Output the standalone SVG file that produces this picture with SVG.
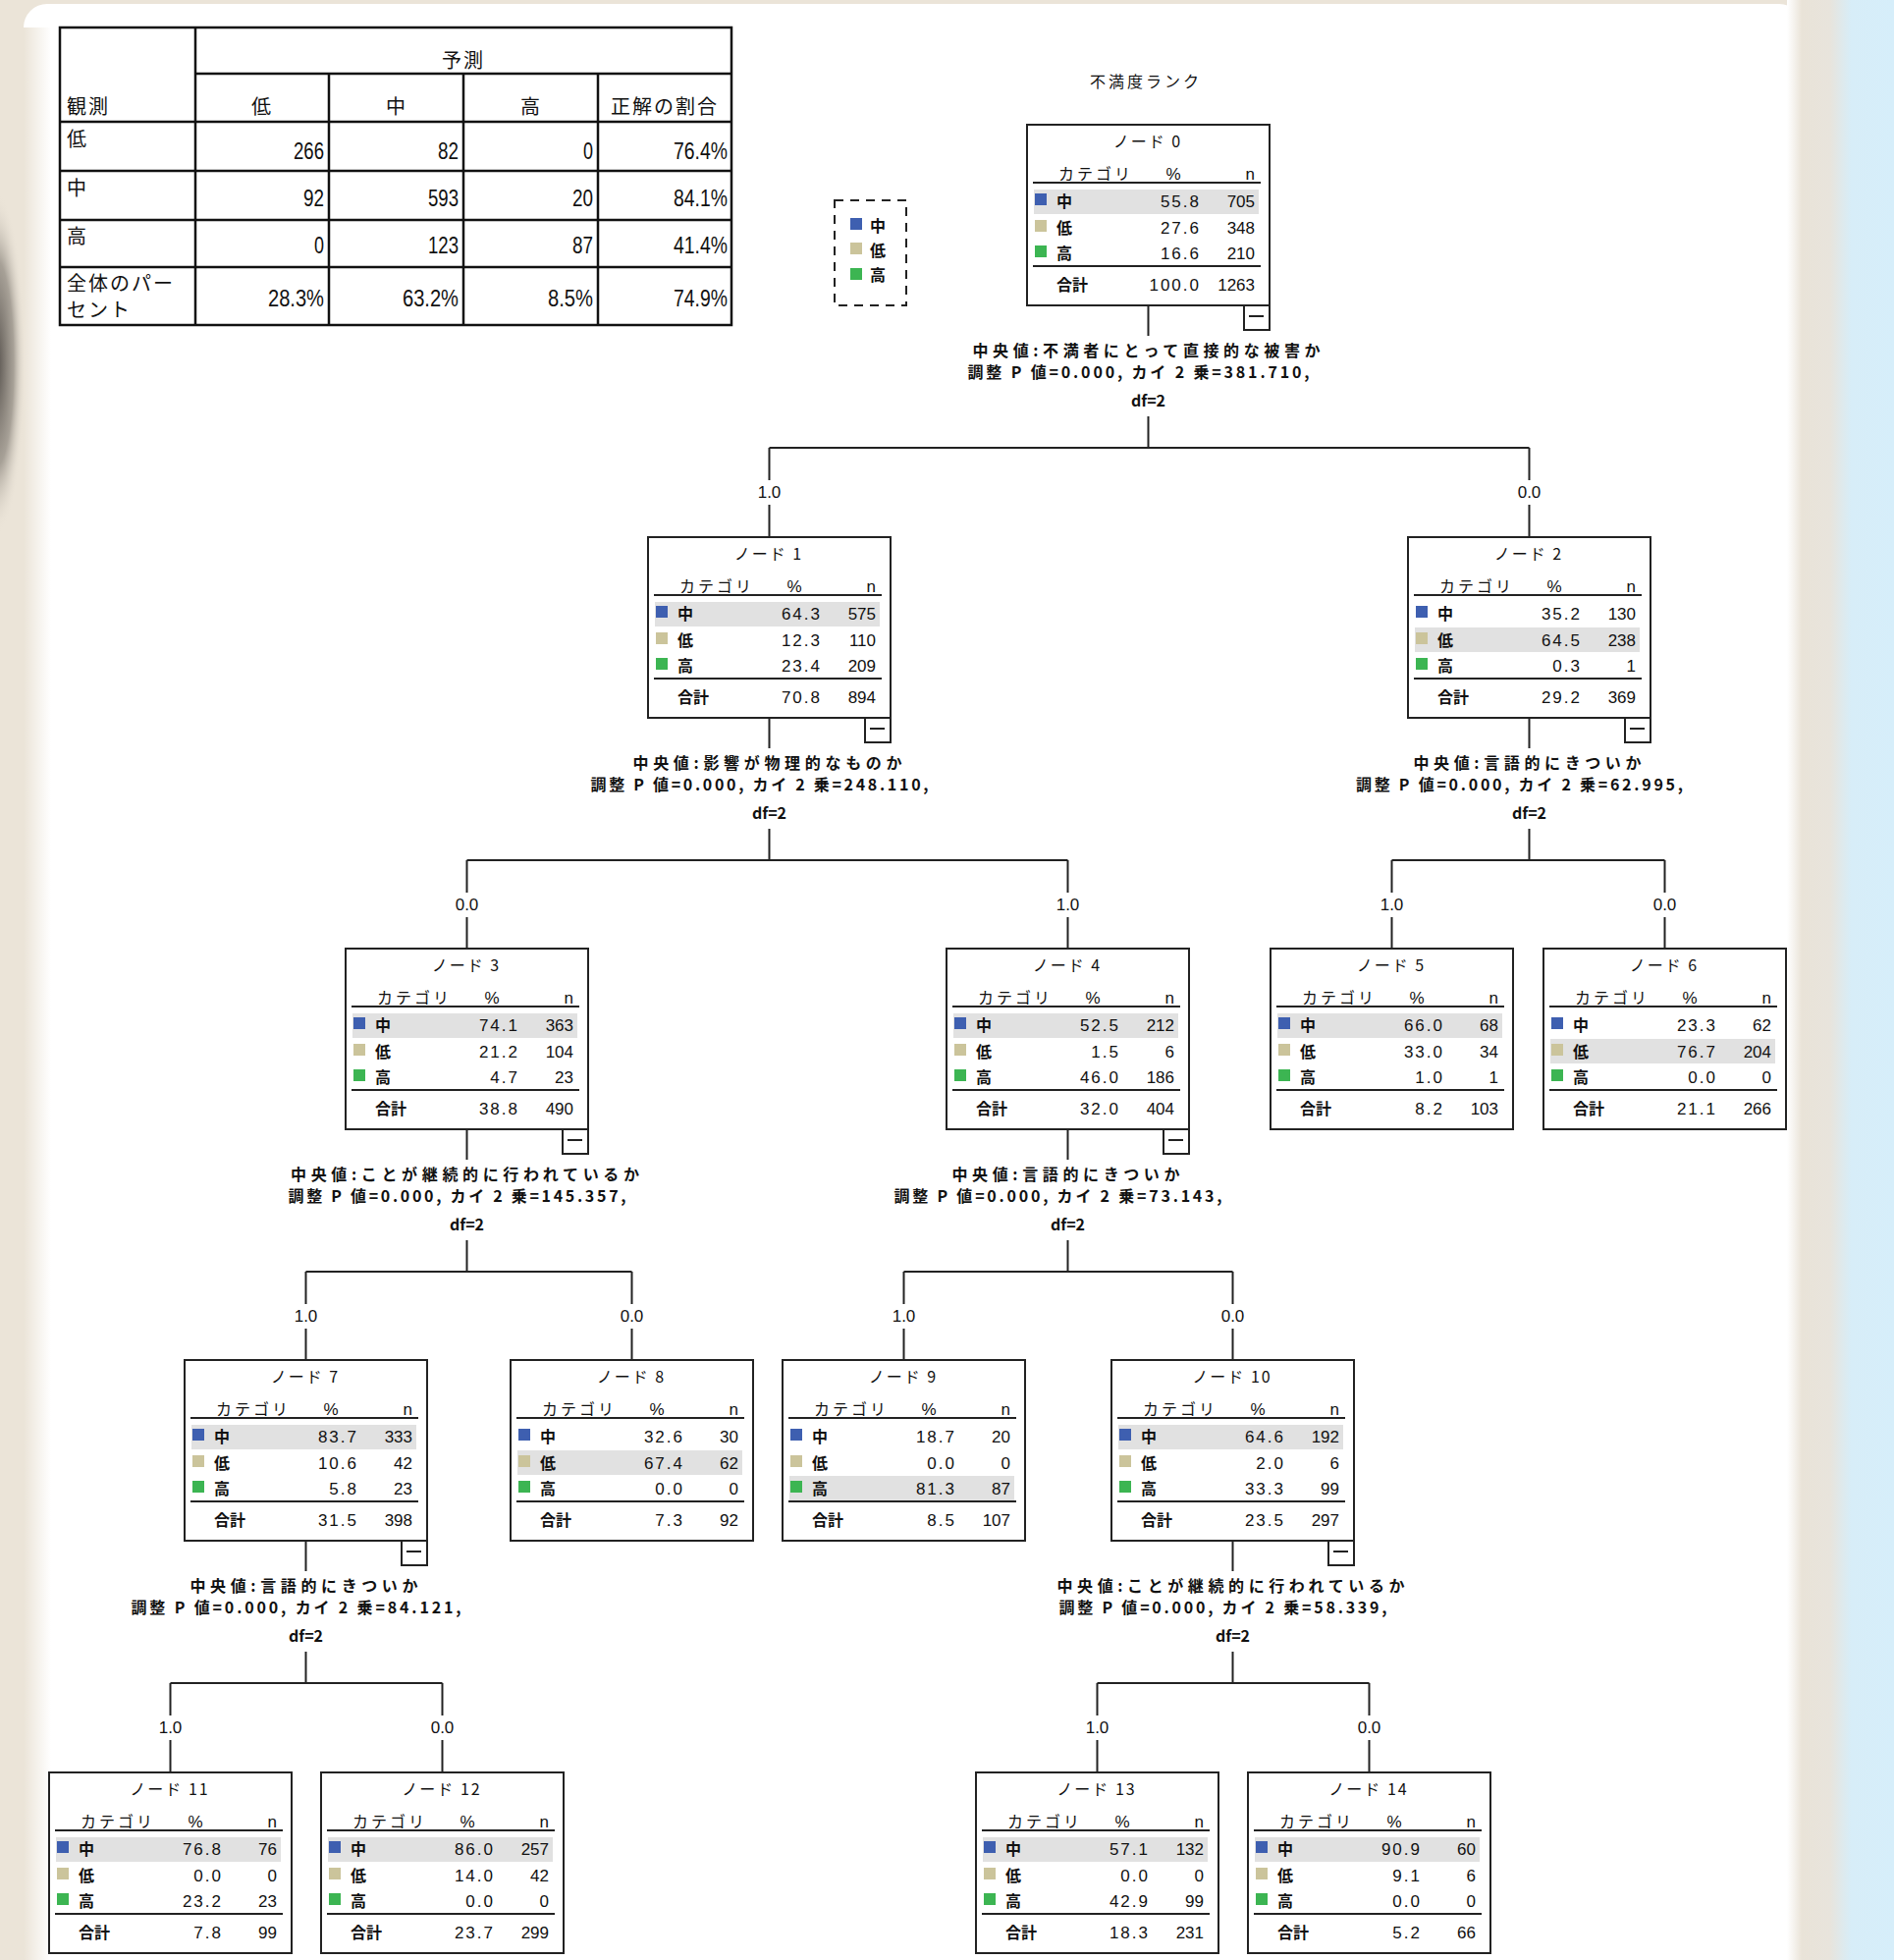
<svg xmlns="http://www.w3.org/2000/svg" width="1929" height="1996" viewBox="0 0 1929 1996">
<defs>
<linearGradient id="gR" x1="0" x2="1" y1="0" y2="0">
<stop offset="0" stop-color="#ffffff"/><stop offset="0.14" stop-color="#e9e3d8"/><stop offset="0.4" stop-color="#e8e4dc"/><stop offset="0.6" stop-color="#d7edf8"/><stop offset="1" stop-color="#d6eefa"/>
</linearGradient>
<linearGradient id="gL" x1="0" x2="1" y1="0" y2="0">
<stop offset="0" stop-color="#ebe4d8"/><stop offset="1" stop-color="#ffffff"/>
</linearGradient>
<radialGradient id="gD" cx="0.5" cy="0.5" r="0.5">
<stop offset="0" stop-color="#4a4541" stop-opacity="0.95"/><stop offset="0.6" stop-color="#7a746c" stop-opacity="0.6"/><stop offset="1" stop-color="#ebe4d8" stop-opacity="0"/>
</radialGradient>
<style>
.box{fill:#fff;stroke:#222;stroke-width:2}
.rule{stroke:#222;stroke-width:2}
.hl{fill:#e1e1e1}
.b{fill:#3e5fb0}.y{fill:#cbc49b}.g{fill:#3cb552}
.t{font-family:"Noto Sans CJK JP",sans-serif;font-size:16px;text-anchor:middle;letter-spacing:2px;fill:#111}
.j{font-family:"Noto Sans CJK JP",sans-serif;font-size:16px;font-weight:bold;fill:#111}
.hd{letter-spacing:3px;font-weight:normal}
.num{font-family:"Liberation Sans",sans-serif;font-size:17px;text-anchor:end;fill:#111}
.p{letter-spacing:2px}
.mid{text-anchor:middle}
.con{fill:none;stroke:#222;stroke-width:2}
.lab{font-family:"Liberation Sans",sans-serif;font-size:17px;text-anchor:middle;fill:#111}
.sp{font-family:"Noto Sans CJK JP",sans-serif;font-size:16px;font-weight:bold;text-anchor:middle;fill:#111}
.tj{font-family:"Noto Sans CJK JP",sans-serif;font-size:20px;letter-spacing:2px;fill:#111}
.tn{font-family:"Liberation Sans",sans-serif;font-size:24px;text-anchor:end;fill:#111}
.tl{stroke:#111;stroke-width:2.5;fill:none}
</style>
</defs>

<rect x="0" y="0" width="1929" height="1996" fill="#ebe4d8"/>
<ellipse cx="-4" cy="370" rx="30" ry="175" fill="url(#gD)"/>
<rect x="24" y="4" width="1812" height="2100" rx="24" fill="#ffffff"/>
<rect x="24" y="28" width="28" height="1968" fill="url(#gL)"/>
<rect x="1820" y="0" width="109" height="1996" fill="url(#gR)"/>

<g id="table">
<rect class="tl" x="61" y="28" width="684" height="303"/>
<path class="tl" d="M199 28V331 M199 75H745 M61 124H745 M335 75V331 M472 75V331 M609 75V331 M61 174H745 M61 224H745 M61 272H745"/>
<text class="tj" x="472" y="69" text-anchor="middle">予測</text>
<text class="tj" x="68" y="116">観測</text>
<text class="tj" x="267" y="116" text-anchor="middle">低</text>
<text class="tj" x="404" y="116" text-anchor="middle">中</text>
<text class="tj" x="541" y="116" text-anchor="middle">高</text>
<text class="tj" x="677" y="116" text-anchor="middle">正解の割合</text>
<text class="tj" x="68" y="149">低</text>
<text class="tj" x="68" y="199">中</text>
<text class="tj" x="68" y="248">高</text>
<text class="tj" x="68" y="296">全体のパー</text>
<text class="tj" x="68" y="323">セント</text>
<text class="tn" x="330" y="162" textLength="31" lengthAdjust="spacingAndGlyphs">266</text>
<text class="tn" x="467" y="162" textLength="21" lengthAdjust="spacingAndGlyphs">82</text>
<text class="tn" x="604" y="162" textLength="10" lengthAdjust="spacingAndGlyphs">0</text>
<text class="tn" x="741" y="162" textLength="55" lengthAdjust="spacingAndGlyphs">76.4%</text>
<text class="tn" x="330" y="210" textLength="21" lengthAdjust="spacingAndGlyphs">92</text>
<text class="tn" x="467" y="210" textLength="31" lengthAdjust="spacingAndGlyphs">593</text>
<text class="tn" x="604" y="210" textLength="21" lengthAdjust="spacingAndGlyphs">20</text>
<text class="tn" x="741" y="210" textLength="55" lengthAdjust="spacingAndGlyphs">84.1%</text>
<text class="tn" x="330" y="258" textLength="10" lengthAdjust="spacingAndGlyphs">0</text>
<text class="tn" x="467" y="258" textLength="31" lengthAdjust="spacingAndGlyphs">123</text>
<text class="tn" x="604" y="258" textLength="21" lengthAdjust="spacingAndGlyphs">87</text>
<text class="tn" x="741" y="258" textLength="55" lengthAdjust="spacingAndGlyphs">41.4%</text>
<text class="tn" x="330" y="312" textLength="57" lengthAdjust="spacingAndGlyphs">28.3%</text>
<text class="tn" x="467" y="312" textLength="57" lengthAdjust="spacingAndGlyphs">63.2%</text>
<text class="tn" x="604" y="312" textLength="46" lengthAdjust="spacingAndGlyphs">8.5%</text>
<text class="tn" x="741" y="312" textLength="55" lengthAdjust="spacingAndGlyphs">74.9%</text>
</g>

<text class="t" x="1167" y="89" style="letter-spacing:3px">不満度ランク</text>

<g id="legend">
<rect x="850" y="204" width="73" height="107" fill="none" stroke="#222" stroke-width="2" stroke-dasharray="9 7"/>
<rect class="b" x="866" y="222" width="12" height="12"/>
<rect class="y" x="866" y="247" width="12" height="12"/>
<rect class="g" x="866" y="273" width="12" height="12"/>
<text class="j" x="886" y="236">中</text>
<text class="j" x="886" y="261">低</text>
<text class="j" x="886" y="286">高</text>
</g>

<g id="connectors">
<path class="con" d="M1169.5 311V342 M1169.5 424V456 M783.5 456H1557.5 M783.5 456V489 M783.5 514V547 M1557.5 456V489 M1557.5 514V547"/>
<path class="con" d="M783.5 731V762 M783.5 844V876 M475.5 876H1087.5 M475.5 876V909 M475.5 934V966 M1087.5 876V909 M1087.5 934V966"/>
<path class="con" d="M1557.5 731V762 M1557.5 844V876 M1417.5 876H1695.5 M1417.5 876V909 M1417.5 934V966 M1695.5 876V909 M1695.5 934V966"/>
<path class="con" d="M475.5 1150V1181 M475.5 1263V1295 M311.5 1295H643.5 M311.5 1295V1328 M311.5 1353V1385 M643.5 1295V1328 M643.5 1353V1385"/>
<path class="con" d="M1087.5 1150V1181 M1087.5 1263V1295 M920.5 1295H1255.5 M920.5 1295V1328 M920.5 1353V1385 M1255.5 1295V1328 M1255.5 1353V1385"/>
<path class="con" d="M311.5 1569V1600 M311.5 1682V1714 M173.5 1714H450.5 M173.5 1714V1747 M173.5 1772V1805 M450.5 1714V1747 M450.5 1772V1805"/>
<path class="con" d="M1255.5 1569V1600 M1255.5 1682V1714 M1117.5 1714H1394.5 M1117.5 1714V1747 M1117.5 1772V1805 M1394.5 1714V1747 M1394.5 1772V1805"/>
<text class="lab" x="783.5" y="507">1.0</text><text class="lab" x="1557.5" y="507">0.0</text>
<text class="lab" x="475.5" y="927">0.0</text><text class="lab" x="1087.5" y="927">1.0</text>
<text class="lab" x="1417.5" y="927">1.0</text><text class="lab" x="1695.5" y="927">0.0</text>
<text class="lab" x="311.5" y="1346">1.0</text><text class="lab" x="643.5" y="1346">0.0</text>
<text class="lab" x="920.5" y="1346">1.0</text><text class="lab" x="1255.5" y="1346">0.0</text>
<text class="lab" x="173.5" y="1765">1.0</text><text class="lab" x="450.5" y="1765">0.0</text>
<text class="lab" x="1117.5" y="1765">1.0</text><text class="lab" x="1394.5" y="1765">0.0</text>
<text class="sp" x="1167.5" y="363" textLength="354">中央値:不満者にとって直接的な被害か</text>
<text class="sp" x="1159.5" y="385" textLength="348">調整 P 値=0.000, カイ 2 乗=381.710,</text>
<text class="sp" x="1169.5" y="414">df=2</text>
<text class="sp" x="781.5" y="783" textLength="274">中央値:影響が物理的なものか</text>
<text class="sp" x="773.5" y="805" textLength="344">調整 P 値=0.000, カイ 2 乗=248.110,</text>
<text class="sp" x="783.5" y="834">df=2</text>
<text class="sp" x="1555.5" y="783" textLength="232">中央値:言語的にきついか</text>
<text class="sp" x="1547.5" y="805" textLength="333">調整 P 値=0.000, カイ 2 乗=62.995,</text>
<text class="sp" x="1557.5" y="834">df=2</text>
<text class="sp" x="473.5" y="1202" textLength="355">中央値:ことが継続的に行われているか</text>
<text class="sp" x="465.5" y="1224" textLength="344">調整 P 値=0.000, カイ 2 乗=145.357,</text>
<text class="sp" x="475.5" y="1253">df=2</text>
<text class="sp" x="1085.5" y="1202" textLength="232">中央値:言語的にきついか</text>
<text class="sp" x="1077.5" y="1224" textLength="334">調整 P 値=0.000, カイ 2 乗=73.143,</text>
<text class="sp" x="1087.5" y="1253">df=2</text>
<text class="sp" x="309.5" y="1621" textLength="232">中央値:言語的にきついか</text>
<text class="sp" x="301.5" y="1643" textLength="336">調整 P 値=0.000, カイ 2 乗=84.121,</text>
<text class="sp" x="311.5" y="1672">df=2</text>
<text class="sp" x="1253.5" y="1621" textLength="354">中央値:ことが継続的に行われているか</text>
<text class="sp" x="1245.5" y="1643" textLength="334">調整 P 値=0.000, カイ 2 乗=58.339,</text>
<text class="sp" x="1255.5" y="1672">df=2</text>
</g>

<g id="node0" transform="translate(1046,127)">
<rect class="box" width="247" height="184"/><rect class="hl" x="7" y="66" width="229" height="25"/>
<text class="t" x="123" y="23">ノード 0</text><text class="j hd" x="32" y="56">カテゴリ</text><text class="num mid" x="149" y="56">%</text><text class="num" x="232" y="56">n</text>
<line class="rule" x1="6" y1="59" x2="238" y2="59"/>
<rect class="b" x="8" y="70" width="12" height="12"/><rect class="y" x="8" y="97" width="12" height="12"/><rect class="g" x="8" y="123" width="12" height="12"/>
<text class="j" x="30" y="84">中</text><text class="j" x="30" y="111">低</text><text class="j" x="30" y="137">高</text>
<text class="num p" x="177" y="84">55.8</text><text class="num" x="232" y="84">705</text>
<text class="num p" x="177" y="111">27.6</text><text class="num" x="232" y="111">348</text>
<text class="num p" x="177" y="137">16.6</text><text class="num" x="232" y="137">210</text>
<line class="rule" x1="6" y1="144" x2="238" y2="144"/>
<text class="j" x="30" y="169">合計</text><text class="num p" x="177" y="169">100.0</text><text class="num" x="232" y="169">1263</text>
<rect class="box" x="221" y="184" width="26" height="25"/><line class="rule" x1="226" y1="195" x2="241" y2="195"/>
</g>

<g id="node1" transform="translate(660,547)">
<rect class="box" width="247" height="184"/><rect class="hl" x="7" y="66" width="229" height="25"/>
<text class="t" x="123" y="23">ノード 1</text><text class="j hd" x="32" y="56">カテゴリ</text><text class="num mid" x="149" y="56">%</text><text class="num" x="232" y="56">n</text>
<line class="rule" x1="6" y1="59" x2="238" y2="59"/>
<rect class="b" x="8" y="70" width="12" height="12"/><rect class="y" x="8" y="97" width="12" height="12"/><rect class="g" x="8" y="123" width="12" height="12"/>
<text class="j" x="30" y="84">中</text><text class="j" x="30" y="111">低</text><text class="j" x="30" y="137">高</text>
<text class="num p" x="177" y="84">64.3</text><text class="num" x="232" y="84">575</text>
<text class="num p" x="177" y="111">12.3</text><text class="num" x="232" y="111">110</text>
<text class="num p" x="177" y="137">23.4</text><text class="num" x="232" y="137">209</text>
<line class="rule" x1="6" y1="144" x2="238" y2="144"/>
<text class="j" x="30" y="169">合計</text><text class="num p" x="177" y="169">70.8</text><text class="num" x="232" y="169">894</text>
<rect class="box" x="221" y="184" width="26" height="25"/><line class="rule" x1="226" y1="195" x2="241" y2="195"/>
</g>

<g id="node2" transform="translate(1434,547)">
<rect class="box" width="247" height="184"/><rect class="hl" x="7" y="92" width="229" height="25"/>
<text class="t" x="123" y="23">ノード 2</text><text class="j hd" x="32" y="56">カテゴリ</text><text class="num mid" x="149" y="56">%</text><text class="num" x="232" y="56">n</text>
<line class="rule" x1="6" y1="59" x2="238" y2="59"/>
<rect class="b" x="8" y="70" width="12" height="12"/><rect class="y" x="8" y="97" width="12" height="12"/><rect class="g" x="8" y="123" width="12" height="12"/>
<text class="j" x="30" y="84">中</text><text class="j" x="30" y="111">低</text><text class="j" x="30" y="137">高</text>
<text class="num p" x="177" y="84">35.2</text><text class="num" x="232" y="84">130</text>
<text class="num p" x="177" y="111">64.5</text><text class="num" x="232" y="111">238</text>
<text class="num p" x="177" y="137">0.3</text><text class="num" x="232" y="137">1</text>
<line class="rule" x1="6" y1="144" x2="238" y2="144"/>
<text class="j" x="30" y="169">合計</text><text class="num p" x="177" y="169">29.2</text><text class="num" x="232" y="169">369</text>
<rect class="box" x="221" y="184" width="26" height="25"/><line class="rule" x1="226" y1="195" x2="241" y2="195"/>
</g>

<g id="node3" transform="translate(352,966)">
<rect class="box" width="247" height="184"/><rect class="hl" x="7" y="66" width="229" height="25"/>
<text class="t" x="123" y="23">ノード 3</text><text class="j hd" x="32" y="56">カテゴリ</text><text class="num mid" x="149" y="56">%</text><text class="num" x="232" y="56">n</text>
<line class="rule" x1="6" y1="59" x2="238" y2="59"/>
<rect class="b" x="8" y="70" width="12" height="12"/><rect class="y" x="8" y="97" width="12" height="12"/><rect class="g" x="8" y="123" width="12" height="12"/>
<text class="j" x="30" y="84">中</text><text class="j" x="30" y="111">低</text><text class="j" x="30" y="137">高</text>
<text class="num p" x="177" y="84">74.1</text><text class="num" x="232" y="84">363</text>
<text class="num p" x="177" y="111">21.2</text><text class="num" x="232" y="111">104</text>
<text class="num p" x="177" y="137">4.7</text><text class="num" x="232" y="137">23</text>
<line class="rule" x1="6" y1="144" x2="238" y2="144"/>
<text class="j" x="30" y="169">合計</text><text class="num p" x="177" y="169">38.8</text><text class="num" x="232" y="169">490</text>
<rect class="box" x="221" y="184" width="26" height="25"/><line class="rule" x1="226" y1="195" x2="241" y2="195"/>
</g>

<g id="node4" transform="translate(964,966)">
<rect class="box" width="247" height="184"/><rect class="hl" x="7" y="66" width="229" height="25"/>
<text class="t" x="123" y="23">ノード 4</text><text class="j hd" x="32" y="56">カテゴリ</text><text class="num mid" x="149" y="56">%</text><text class="num" x="232" y="56">n</text>
<line class="rule" x1="6" y1="59" x2="238" y2="59"/>
<rect class="b" x="8" y="70" width="12" height="12"/><rect class="y" x="8" y="97" width="12" height="12"/><rect class="g" x="8" y="123" width="12" height="12"/>
<text class="j" x="30" y="84">中</text><text class="j" x="30" y="111">低</text><text class="j" x="30" y="137">高</text>
<text class="num p" x="177" y="84">52.5</text><text class="num" x="232" y="84">212</text>
<text class="num p" x="177" y="111">1.5</text><text class="num" x="232" y="111">6</text>
<text class="num p" x="177" y="137">46.0</text><text class="num" x="232" y="137">186</text>
<line class="rule" x1="6" y1="144" x2="238" y2="144"/>
<text class="j" x="30" y="169">合計</text><text class="num p" x="177" y="169">32.0</text><text class="num" x="232" y="169">404</text>
<rect class="box" x="221" y="184" width="26" height="25"/><line class="rule" x1="226" y1="195" x2="241" y2="195"/>
</g>

<g id="node5" transform="translate(1294,966)">
<rect class="box" width="247" height="184"/><rect class="hl" x="7" y="66" width="229" height="25"/>
<text class="t" x="123" y="23">ノード 5</text><text class="j hd" x="32" y="56">カテゴリ</text><text class="num mid" x="149" y="56">%</text><text class="num" x="232" y="56">n</text>
<line class="rule" x1="6" y1="59" x2="238" y2="59"/>
<rect class="b" x="8" y="70" width="12" height="12"/><rect class="y" x="8" y="97" width="12" height="12"/><rect class="g" x="8" y="123" width="12" height="12"/>
<text class="j" x="30" y="84">中</text><text class="j" x="30" y="111">低</text><text class="j" x="30" y="137">高</text>
<text class="num p" x="177" y="84">66.0</text><text class="num" x="232" y="84">68</text>
<text class="num p" x="177" y="111">33.0</text><text class="num" x="232" y="111">34</text>
<text class="num p" x="177" y="137">1.0</text><text class="num" x="232" y="137">1</text>
<line class="rule" x1="6" y1="144" x2="238" y2="144"/>
<text class="j" x="30" y="169">合計</text><text class="num p" x="177" y="169">8.2</text><text class="num" x="232" y="169">103</text>
</g>

<g id="node6" transform="translate(1572,966)">
<rect class="box" width="247" height="184"/><rect class="hl" x="7" y="92" width="229" height="25"/>
<text class="t" x="123" y="23">ノード 6</text><text class="j hd" x="32" y="56">カテゴリ</text><text class="num mid" x="149" y="56">%</text><text class="num" x="232" y="56">n</text>
<line class="rule" x1="6" y1="59" x2="238" y2="59"/>
<rect class="b" x="8" y="70" width="12" height="12"/><rect class="y" x="8" y="97" width="12" height="12"/><rect class="g" x="8" y="123" width="12" height="12"/>
<text class="j" x="30" y="84">中</text><text class="j" x="30" y="111">低</text><text class="j" x="30" y="137">高</text>
<text class="num p" x="177" y="84">23.3</text><text class="num" x="232" y="84">62</text>
<text class="num p" x="177" y="111">76.7</text><text class="num" x="232" y="111">204</text>
<text class="num p" x="177" y="137">0.0</text><text class="num" x="232" y="137">0</text>
<line class="rule" x1="6" y1="144" x2="238" y2="144"/>
<text class="j" x="30" y="169">合計</text><text class="num p" x="177" y="169">21.1</text><text class="num" x="232" y="169">266</text>
</g>

<g id="node7" transform="translate(188,1385)">
<rect class="box" width="247" height="184"/><rect class="hl" x="7" y="66" width="229" height="25"/>
<text class="t" x="123" y="23">ノード 7</text><text class="j hd" x="32" y="56">カテゴリ</text><text class="num mid" x="149" y="56">%</text><text class="num" x="232" y="56">n</text>
<line class="rule" x1="6" y1="59" x2="238" y2="59"/>
<rect class="b" x="8" y="70" width="12" height="12"/><rect class="y" x="8" y="97" width="12" height="12"/><rect class="g" x="8" y="123" width="12" height="12"/>
<text class="j" x="30" y="84">中</text><text class="j" x="30" y="111">低</text><text class="j" x="30" y="137">高</text>
<text class="num p" x="177" y="84">83.7</text><text class="num" x="232" y="84">333</text>
<text class="num p" x="177" y="111">10.6</text><text class="num" x="232" y="111">42</text>
<text class="num p" x="177" y="137">5.8</text><text class="num" x="232" y="137">23</text>
<line class="rule" x1="6" y1="144" x2="238" y2="144"/>
<text class="j" x="30" y="169">合計</text><text class="num p" x="177" y="169">31.5</text><text class="num" x="232" y="169">398</text>
<rect class="box" x="221" y="184" width="26" height="25"/><line class="rule" x1="226" y1="195" x2="241" y2="195"/>
</g>

<g id="node8" transform="translate(520,1385)">
<rect class="box" width="247" height="184"/><rect class="hl" x="7" y="92" width="229" height="25"/>
<text class="t" x="123" y="23">ノード 8</text><text class="j hd" x="32" y="56">カテゴリ</text><text class="num mid" x="149" y="56">%</text><text class="num" x="232" y="56">n</text>
<line class="rule" x1="6" y1="59" x2="238" y2="59"/>
<rect class="b" x="8" y="70" width="12" height="12"/><rect class="y" x="8" y="97" width="12" height="12"/><rect class="g" x="8" y="123" width="12" height="12"/>
<text class="j" x="30" y="84">中</text><text class="j" x="30" y="111">低</text><text class="j" x="30" y="137">高</text>
<text class="num p" x="177" y="84">32.6</text><text class="num" x="232" y="84">30</text>
<text class="num p" x="177" y="111">67.4</text><text class="num" x="232" y="111">62</text>
<text class="num p" x="177" y="137">0.0</text><text class="num" x="232" y="137">0</text>
<line class="rule" x1="6" y1="144" x2="238" y2="144"/>
<text class="j" x="30" y="169">合計</text><text class="num p" x="177" y="169">7.3</text><text class="num" x="232" y="169">92</text>
</g>

<g id="node9" transform="translate(797,1385)">
<rect class="box" width="247" height="184"/><rect class="hl" x="7" y="118" width="229" height="25"/>
<text class="t" x="123" y="23">ノード 9</text><text class="j hd" x="32" y="56">カテゴリ</text><text class="num mid" x="149" y="56">%</text><text class="num" x="232" y="56">n</text>
<line class="rule" x1="6" y1="59" x2="238" y2="59"/>
<rect class="b" x="8" y="70" width="12" height="12"/><rect class="y" x="8" y="97" width="12" height="12"/><rect class="g" x="8" y="123" width="12" height="12"/>
<text class="j" x="30" y="84">中</text><text class="j" x="30" y="111">低</text><text class="j" x="30" y="137">高</text>
<text class="num p" x="177" y="84">18.7</text><text class="num" x="232" y="84">20</text>
<text class="num p" x="177" y="111">0.0</text><text class="num" x="232" y="111">0</text>
<text class="num p" x="177" y="137">81.3</text><text class="num" x="232" y="137">87</text>
<line class="rule" x1="6" y1="144" x2="238" y2="144"/>
<text class="j" x="30" y="169">合計</text><text class="num p" x="177" y="169">8.5</text><text class="num" x="232" y="169">107</text>
</g>

<g id="node10" transform="translate(1132,1385)">
<rect class="box" width="247" height="184"/><rect class="hl" x="7" y="66" width="229" height="25"/>
<text class="t" x="123" y="23">ノード 10</text><text class="j hd" x="32" y="56">カテゴリ</text><text class="num mid" x="149" y="56">%</text><text class="num" x="232" y="56">n</text>
<line class="rule" x1="6" y1="59" x2="238" y2="59"/>
<rect class="b" x="8" y="70" width="12" height="12"/><rect class="y" x="8" y="97" width="12" height="12"/><rect class="g" x="8" y="123" width="12" height="12"/>
<text class="j" x="30" y="84">中</text><text class="j" x="30" y="111">低</text><text class="j" x="30" y="137">高</text>
<text class="num p" x="177" y="84">64.6</text><text class="num" x="232" y="84">192</text>
<text class="num p" x="177" y="111">2.0</text><text class="num" x="232" y="111">6</text>
<text class="num p" x="177" y="137">33.3</text><text class="num" x="232" y="137">99</text>
<line class="rule" x1="6" y1="144" x2="238" y2="144"/>
<text class="j" x="30" y="169">合計</text><text class="num p" x="177" y="169">23.5</text><text class="num" x="232" y="169">297</text>
<rect class="box" x="221" y="184" width="26" height="25"/><line class="rule" x1="226" y1="195" x2="241" y2="195"/>
</g>

<g id="node11" transform="translate(50,1805)">
<rect class="box" width="247" height="184"/><rect class="hl" x="7" y="66" width="229" height="25"/>
<text class="t" x="123" y="23">ノード 11</text><text class="j hd" x="32" y="56">カテゴリ</text><text class="num mid" x="149" y="56">%</text><text class="num" x="232" y="56">n</text>
<line class="rule" x1="6" y1="59" x2="238" y2="59"/>
<rect class="b" x="8" y="70" width="12" height="12"/><rect class="y" x="8" y="97" width="12" height="12"/><rect class="g" x="8" y="123" width="12" height="12"/>
<text class="j" x="30" y="84">中</text><text class="j" x="30" y="111">低</text><text class="j" x="30" y="137">高</text>
<text class="num p" x="177" y="84">76.8</text><text class="num" x="232" y="84">76</text>
<text class="num p" x="177" y="111">0.0</text><text class="num" x="232" y="111">0</text>
<text class="num p" x="177" y="137">23.2</text><text class="num" x="232" y="137">23</text>
<line class="rule" x1="6" y1="144" x2="238" y2="144"/>
<text class="j" x="30" y="169">合計</text><text class="num p" x="177" y="169">7.8</text><text class="num" x="232" y="169">99</text>
</g>

<g id="node12" transform="translate(327,1805)">
<rect class="box" width="247" height="184"/><rect class="hl" x="7" y="66" width="229" height="25"/>
<text class="t" x="123" y="23">ノード 12</text><text class="j hd" x="32" y="56">カテゴリ</text><text class="num mid" x="149" y="56">%</text><text class="num" x="232" y="56">n</text>
<line class="rule" x1="6" y1="59" x2="238" y2="59"/>
<rect class="b" x="8" y="70" width="12" height="12"/><rect class="y" x="8" y="97" width="12" height="12"/><rect class="g" x="8" y="123" width="12" height="12"/>
<text class="j" x="30" y="84">中</text><text class="j" x="30" y="111">低</text><text class="j" x="30" y="137">高</text>
<text class="num p" x="177" y="84">86.0</text><text class="num" x="232" y="84">257</text>
<text class="num p" x="177" y="111">14.0</text><text class="num" x="232" y="111">42</text>
<text class="num p" x="177" y="137">0.0</text><text class="num" x="232" y="137">0</text>
<line class="rule" x1="6" y1="144" x2="238" y2="144"/>
<text class="j" x="30" y="169">合計</text><text class="num p" x="177" y="169">23.7</text><text class="num" x="232" y="169">299</text>
</g>

<g id="node13" transform="translate(994,1805)">
<rect class="box" width="247" height="184"/><rect class="hl" x="7" y="66" width="229" height="25"/>
<text class="t" x="123" y="23">ノード 13</text><text class="j hd" x="32" y="56">カテゴリ</text><text class="num mid" x="149" y="56">%</text><text class="num" x="232" y="56">n</text>
<line class="rule" x1="6" y1="59" x2="238" y2="59"/>
<rect class="b" x="8" y="70" width="12" height="12"/><rect class="y" x="8" y="97" width="12" height="12"/><rect class="g" x="8" y="123" width="12" height="12"/>
<text class="j" x="30" y="84">中</text><text class="j" x="30" y="111">低</text><text class="j" x="30" y="137">高</text>
<text class="num p" x="177" y="84">57.1</text><text class="num" x="232" y="84">132</text>
<text class="num p" x="177" y="111">0.0</text><text class="num" x="232" y="111">0</text>
<text class="num p" x="177" y="137">42.9</text><text class="num" x="232" y="137">99</text>
<line class="rule" x1="6" y1="144" x2="238" y2="144"/>
<text class="j" x="30" y="169">合計</text><text class="num p" x="177" y="169">18.3</text><text class="num" x="232" y="169">231</text>
</g>

<g id="node14" transform="translate(1271,1805)">
<rect class="box" width="247" height="184"/><rect class="hl" x="7" y="66" width="229" height="25"/>
<text class="t" x="123" y="23">ノード 14</text><text class="j hd" x="32" y="56">カテゴリ</text><text class="num mid" x="149" y="56">%</text><text class="num" x="232" y="56">n</text>
<line class="rule" x1="6" y1="59" x2="238" y2="59"/>
<rect class="b" x="8" y="70" width="12" height="12"/><rect class="y" x="8" y="97" width="12" height="12"/><rect class="g" x="8" y="123" width="12" height="12"/>
<text class="j" x="30" y="84">中</text><text class="j" x="30" y="111">低</text><text class="j" x="30" y="137">高</text>
<text class="num p" x="177" y="84">90.9</text><text class="num" x="232" y="84">60</text>
<text class="num p" x="177" y="111">9.1</text><text class="num" x="232" y="111">6</text>
<text class="num p" x="177" y="137">0.0</text><text class="num" x="232" y="137">0</text>
<line class="rule" x1="6" y1="144" x2="238" y2="144"/>
<text class="j" x="30" y="169">合計</text><text class="num p" x="177" y="169">5.2</text><text class="num" x="232" y="169">66</text>
</g>
</svg>
